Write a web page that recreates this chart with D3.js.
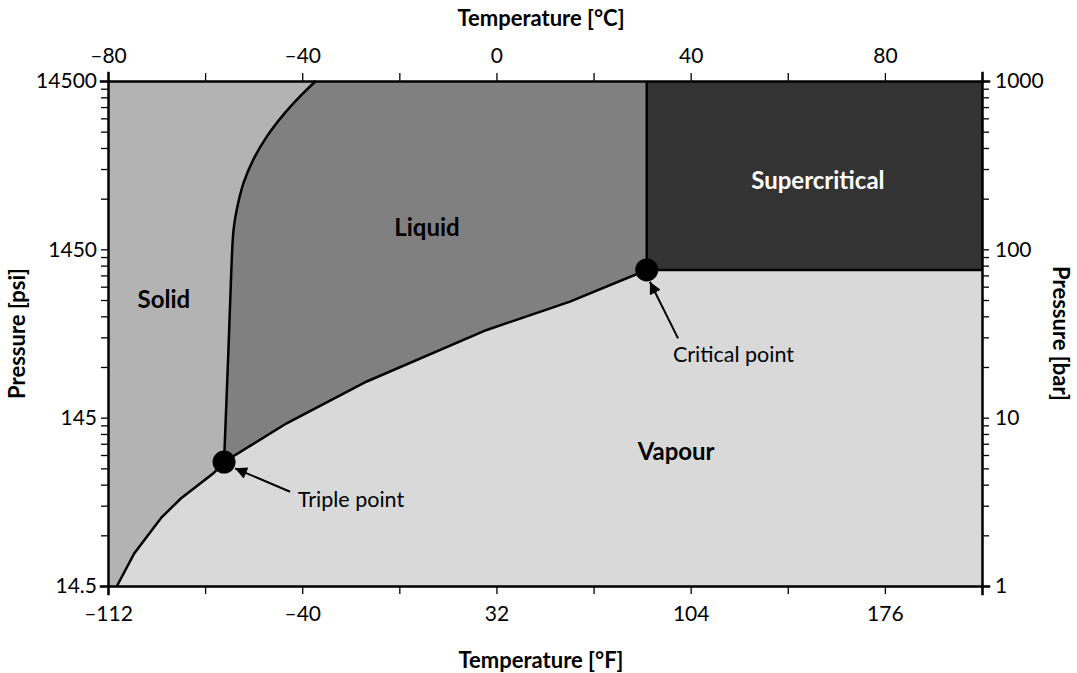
<!DOCTYPE html>
<html>
<head>
<meta charset="utf-8">
<script src="https://cdn.jsdelivr.net/npm/d3@7"></script>
<style>
  body { margin: 0; background: #fff; }
  svg text { font-family: Lato, "Open Sans", sans-serif; fill: #000; }
  .axis text { font-size: 21px; }
  .title { font-size: 22px; font-weight: bold; }
  .phase { font-size: 24px; font-weight: bold; }
  .note { font-size: 21.5px; }
</style>
</head>
<body>
<script>
'use strict';

// phase boundaries of CO2, [temperature °C, pressure bar]
var sublimation = [[-78.15, 1.0], [-74.6, 1.56], [-69.0, 2.55], [-65.0, 3.31], [-58.3, 4.67], [-56.1, 5.45]];
var melting = [[-56.1, 5.45], [-55.2, 25.2], [-54.6, 75.4], [-54.15, 130], [-53.5, 171], [-52.1, 247],
               [-50.1, 340], [-47.3, 467], [-43.9, 629], [-40.5, 807], [-37.2, 1000]];
var vaporization = [[-56.1, 5.45], [-43.2, 9.26], [-26.7, 16.4], [-2.0, 33.2], [15.15, 48.9], [30.95, 75.4]];
var triplePoint = [-56.1, 5.45];
var criticalPoint = [30.95, 75.4];

var celsiusTicks = [-80, -60, -40, -20, 0, 20, 40, 60, 80, 100];
var celsiusLabels = [-80, -40, 0, 40, 80];
var fahrenheitLabels = [-112, -40, 32, 104, 176];
var barLabels = [1, 10, 100, 1000];
var psiLabels = [14.5, 145, 1450, 14500];

var phaseLabels = [
  {text: 'Solid', t: -68.5, p: 50, fill: '#000'},
  {text: 'Liquid', t: -14.3, p: 134, fill: '#000'},
  {text: 'Supercritical', t: 66.2, p: 255, fill: '#fff'},
  {text: 'Vapour', t: 37.0, p: 6.25, fill: '#000'}
];

var W = 1077, H = 673;
var pLeft = 108, pRight = 982, pTop = 81, pBottom = 586;

var svg = d3.select('body').append('svg').attr('width', W).attr('height', H);

var x = d3.scaleLinear().domain([-80, 100]).range([pLeft, pRight]);
var xF = d3.scaleLinear().domain([-112, 212]).range([pLeft, pRight]);
var y = d3.scaleLog().domain([1, 1000]).range([pBottom, pTop]);
var yPsi = d3.scaleLog().domain([14.5, 14500]).range([pBottom, pTop]);

var line = d3.line().x(function(d) { return x(d[0]); }).y(function(d) { return y(d[1]); });
var smooth = d3.line().x(function(d) { return x(d[0]); }).y(function(d) { return y(d[1]); })
  .curve(d3.curveCatmullRom);
function xy(d) { return x(d[0]) + ',' + y(d[1]); }

// vapour is the background
svg.append('rect').attr('x', pLeft).attr('y', pTop)
  .attr('width', pRight - pLeft).attr('height', pBottom - pTop).attr('fill', '#d9d9d9');

// solid: left edge, melting curve down, sublimation curve down
var solidPath = 'M' + xy([-80, 1000]) +
  'L' + smooth(melting.slice().reverse()).slice(1) +
  'L' + line(sublimation.slice().reverse()).slice(1) +
  'L' + xy([-80, 1]) + 'Z';
svg.append('path').attr('d', solidPath).attr('fill', '#b3b3b3');

// liquid: melting curve up, top edge, critical isotherm, vaporization curve down
var liquidPath = smooth(melting) +
  'L' + xy([criticalPoint[0], 1000]) +
  'L' + line(vaporization.slice().reverse()).slice(1) + 'Z';
svg.append('path').attr('d', liquidPath).attr('fill', '#808080');

// supercritical
svg.append('rect').attr('x', x(criticalPoint[0])).attr('y', pTop)
  .attr('width', pRight - x(criticalPoint[0])).attr('height', y(criticalPoint[1]) - pTop)
  .attr('fill', '#333333');

// boundary lines
var g = svg.append('g').attr('fill', 'none').attr('stroke', '#000').attr('stroke-width', 2.5);
g.append('path').attr('d', line(sublimation));
g.append('path').attr('d', smooth(melting));
g.append('path').attr('d', line(vaporization));
g.append('path').attr('d', line([criticalPoint, [criticalPoint[0], 1000]]));
g.append('path').attr('d', line([criticalPoint, [100, criticalPoint[1]]]));

// axes
function fmtMinus(v) { return String(v).replace('-', '\u2013'); }
var axTop = d3.axisTop(x).tickValues(celsiusTicks).tickSize(8).tickPadding(6)
  .tickFormat(function(d) { return celsiusLabels.indexOf(d) >= 0 ? fmtMinus(d) : ''; });
var fTicks = celsiusTicks.map(function(c) { return c * 1.8 + 32; });
var axBottom = d3.axisBottom(xF).tickValues(fTicks).tickSize(8).tickPadding(6)
  .tickFormat(function(d) { return fahrenheitLabels.indexOf(Math.round(d)) >= 0 ? fmtMinus(Math.round(d)) : ''; });

var barTicks = [];
[1, 10, 100].forEach(function(dec) { for (var k = 1; k < 10; k++) barTicks.push(k * dec); });
barTicks.push(1000);
var axRight = d3.axisRight(y).tickValues(barTicks).tickSize(7).tickPadding(6)
  .tickFormat(function(d) { return barLabels.indexOf(d) >= 0 ? d : ''; });
var axLeft = d3.axisLeft(yPsi).tickValues(barTicks.map(function(b) { return b * 14.5; })).tickSize(7).tickPadding(4)
  .tickFormat(function(d) {
    var v = Math.round(d * 10) / 10;
    return psiLabels.indexOf(v) >= 0 ? v : '';
  });

function styleAxis(sel) {
  sel.attr('class', 'axis');
  sel.select('.domain').attr('stroke-width', 2.5);
  sel.selectAll('.tick line').attr('stroke-width', 1.3);
  sel.selectAll('.tick text').attr('fill', '#000');
}
svg.append('g').attr('transform', 'translate(0,' + pTop + ')').call(axTop).call(styleAxis)
  .selectAll('.tick text').attr('dy', '-0.2em');
svg.append('g').attr('transform', 'translate(0,' + pBottom + ')').call(axBottom).call(styleAxis)
  .selectAll('.tick text').attr('dy', '1.0em');
svg.append('g').attr('transform', 'translate(' + pRight + ',0)').call(axRight).call(styleAxis);
svg.append('g').attr('transform', 'translate(' + pLeft + ',0)').call(axLeft).call(styleAxis);
svg.selectAll('.domain').attr('stroke-linecap', 'square');

// titles
svg.append('text').attr('class', 'title').attr('x', 541).attr('y', 26)
  .attr('text-anchor', 'middle').text('Temperature [°C]');
svg.append('text').attr('class', 'title').attr('x', 541).attr('y', 668)
  .attr('text-anchor', 'middle').text('Temperature [°F]');
svg.append('text').attr('class', 'title')
  .attr('transform', 'translate(25,' + (pTop + pBottom) / 2 + ') rotate(-90)')
  .attr('text-anchor', 'middle').text('Pressure [psi]');
svg.append('text').attr('class', 'title')
  .attr('transform', 'translate(1053,' + (pTop + pBottom) / 2 + ') rotate(90)')
  .attr('text-anchor', 'middle').text('Pressure [bar]');

// phase names
svg.selectAll('.phase').data(phaseLabels).enter().append('text')
  .attr('class', 'phase')
  .attr('x', function(d) { return x(d.t); })
  .attr('y', function(d) { return y(d.p); })
  .attr('text-anchor', 'middle').attr('dy', '0.35em')
  .style('fill', function(d) { return d.fill; })
  .text(function(d) { return d.text; });

// points and arrows
svg.append('defs').append('marker').attr('id', 'head')
  .attr('viewBox', '0 0 10 10').attr('refX', 10).attr('refY', 5)
  .attr('markerWidth', 8.5).attr('markerHeight', 6).attr('orient', 'auto')
  .attr('markerUnits', 'strokeWidth')
  .append('path').attr('d', 'M0,0L10,5L0,10z').attr('fill', '#000');

[triplePoint, criticalPoint].forEach(function(d) {
  svg.append('circle').attr('cx', x(d[0])).attr('cy', y(d[1])).attr('r', 11.5).attr('fill', '#000');
});

var notes = [
  {text: 'Triple point', from: [-42.5, 3.63], to: [-53.85, 5.0], tx: -40.9, tp: 2.95},
  {text: 'Critical point', from: [37.4, 29.6], to: [31.6, 64.2], tx: 36.35, tp: 21.5}
];
notes.forEach(function(n) {
  svg.append('line')
    .attr('x1', x(n.from[0])).attr('y1', y(n.from[1]))
    .attr('x2', x(n.to[0])).attr('y2', y(n.to[1]))
    .attr('stroke', '#000').attr('stroke-width', 2).attr('marker-end', 'url(#head)');
  svg.append('text').attr('class', 'note').attr('x', x(n.tx)).attr('y', y(n.tp)).text(n.text);
});
</script>
</body>
</html>
